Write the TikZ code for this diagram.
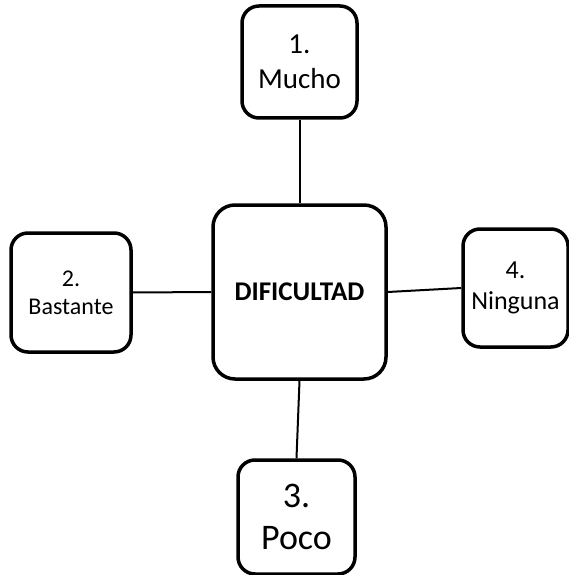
\documentclass[tikz,border=0pt]{standalone}
\usepackage{fontspec}
\setmainfont{Carlito}
\begin{document}
\begin{tikzpicture}[x=1pt,y=-1pt,
  box/.style={draw=black, line width=3.5pt, rounded corners=17pt, fill=white,
    align=center, inner sep=0pt, text=black},
  link/.style={draw=black, line width=2pt}]
\useasboundingbox (0,0) rectangle (569,575);
% central concept
\node[box, minimum width=173pt, minimum height=174pt, rounded corners=22pt,
  font=\bfseries\fontsize{27}{32}\selectfont] (ctr) at (299.5,292) {DIFICULTAD};
% the four levels around it
\node[box, minimum width=115pt, minimum height=112pt,
  font=\fontsize{29}{35}\selectfont] (top) at (299.5,62) {1.\\Mucho};
\node[box, minimum width=120pt, minimum height=119pt,
  font=\fontsize{24}{28}\selectfont] (lft) at (71,292.5) {2.\\Bastante};
\node[box, minimum width=105pt, minimum height=118pt,
  font=\fontsize{26}{31}\selectfont] (rgt) at (515.5,288) {4.\\Ninguna};
\node[box, minimum width=117pt, minimum height=114pt,
  font=\fontsize{36}{42}\selectfont] (bot) at (296.5,517) {3.\\Poco};
% connectors
\draw[link] (top.south) -- (ctr.north);
\draw[link] (ctr.south) -- (bot.north);
\draw[link] (lft.east) -- (ctr.west);
\draw[link] (ctr.east) -- (rgt.west);
\end{tikzpicture}
\end{document}
